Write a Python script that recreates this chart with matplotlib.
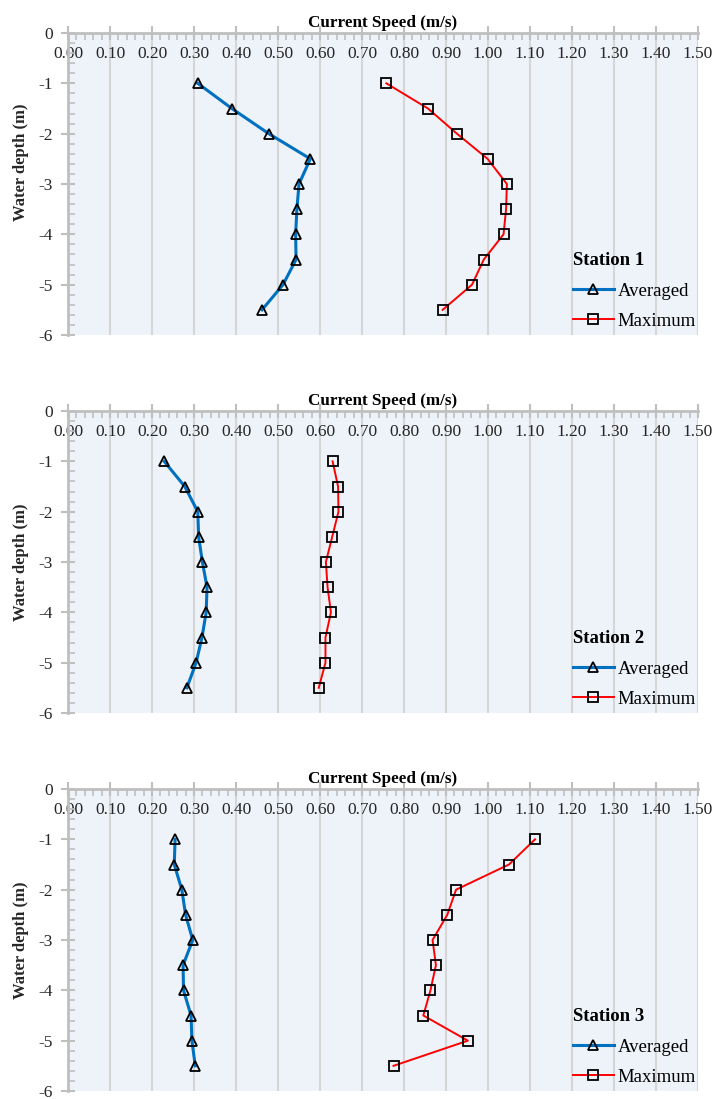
import matplotlib.pyplot as plt
from matplotlib.ticker import MultipleLocator, FixedLocator

# ============================================
# Data
# ============================================

depth = [-1.0, -1.5, -2.0, -2.5, -3.0, -3.5, -4.0, -4.5, -5.0, -5.5]

stations = ["Station 1", "Station 2", "Station 3"]

avg_s1 = [0.309, 0.390, 0.478, 0.577, 0.550, 0.545, 0.542, 0.543, 0.512, 0.462]
max_s1 = [0.758, 0.857, 0.926, 0.999, 1.045, 1.043, 1.037, 0.990, 0.962, 0.892]

avg_s2 = [0.229, 0.278, 0.309, 0.311, 0.320, 0.331, 0.329, 0.319, 0.305, 0.283]
max_s2 = [0.630, 0.643, 0.644, 0.629, 0.614, 0.618, 0.626, 0.613, 0.613, 0.597]

avg_s3 = [0.255, 0.253, 0.271, 0.280, 0.297, 0.274, 0.275, 0.293, 0.295, 0.303]
max_s3 = [1.112, 1.050, 0.924, 0.903, 0.868, 0.876, 0.863, 0.846, 0.952, 0.775]

averaged = [avg_s1, avg_s2, avg_s3]
maximum = [max_s1, max_s2, max_s3]

x_ticks = [i / 10 for i in range(16)]
x_labels = [f"{t:.2f}" for t in x_ticks]
y_ticks = [0, -1, -2, -3, -4, -5, -6]

# ============================================
# Style
# ============================================

SERIF = ["Liberation Serif", "DejaVu Serif"]
BG = "#EEF2F9"
GRID = "#D6D6D6"
SPINE = "#BFBFBF"
TEXT = "#262626"

plt.rcParams["font.family"] = SERIF

fig = plt.figure(figsize=(7.14, 10.99), dpi=100)

W, H = 714, 1099
left_px, right_px = 68, 698
panel_tops = [33, 411, 789]
panel_h = 302
ylabel_centers = [162, 562, 940]

for k in range(3):
    top = panel_tops[k]
    ax = fig.add_axes([left_px / W, 1 - (top + panel_h) / H,
                       (right_px - left_px) / W, panel_h / H])
    ax.set_facecolor(BG)

    ax.set_xlim(0, 1.5)
    ax.set_ylim(-6, 0)

    # vertical gridlines
    for t in x_ticks[1:]:
        ax.axvline(t, color=GRID, lw=1.5, zorder=0)

    ax.plot(averaged[k], depth, color="#0070C0", lw=2.2, marker="^",
            ms=7, mfc="none", mec="black", mew=1.3, label="Averaged",
            zorder=3)
    ax.plot(maximum[k], depth, color="#FF0000", lw=1.4, marker="s",
            ms=7, mfc="none", mec="black", mew=1.3, label="Maximum",
            zorder=3)

    # spines
    for side in ["right", "bottom"]:
        ax.spines[side].set_visible(False)
    for side in ["left", "top"]:
        ax.spines[side].set_color(SPINE)
        ax.spines[side].set_linewidth(2)

    # x axis along the top, labels sitting just under the line
    ax.xaxis.set_major_locator(FixedLocator(x_ticks))
    ax.set_xticklabels(x_labels)
    ax.xaxis.set_minor_locator(MultipleLocator(0.02))
    ax.xaxis.tick_top()
    ax.tick_params(axis="x", which="major", direction="inout", length=10,
                   width=1.5, color=SPINE, pad=-26, labelsize=12.5,
                   labelcolor=TEXT)
    ax.tick_params(axis="x", which="minor", direction="in", length=5,
                   width=1.2, color=SPINE, top=True, bottom=False)

    ax.yaxis.set_major_locator(FixedLocator(y_ticks))
    ax.set_yticklabels([str(v) for v in y_ticks])
    ax.yaxis.set_minor_locator(MultipleLocator(0.2))
    ax.tick_params(axis="y", which="major", direction="inout", length=10,
                   width=1.5, color=SPINE, pad=6, labelsize=12.5,
                   labelcolor=TEXT)
    ax.tick_params(axis="y", which="minor", direction="in", length=5,
                   width=1.2, color=SPINE)

    ax.set_title("Current Speed (m/s)", fontsize=12.3, fontweight="bold",
                 color="black", pad=4)

    ax.set_ylabel("Water depth (m)", fontsize=12, fontweight="bold",
                  color=TEXT)
    ax.yaxis.set_label_coords(
        (29 - left_px) / (right_px - left_px),
        (top + panel_h - ylabel_centers[k]) / panel_h)

    leg = ax.legend(title=stations[k], loc="upper left",
                    bbox_to_anchor=(0.786, 0.305), frameon=False,
                    borderpad=0, handlelength=2.2, handletextpad=0.2,
                    labelspacing=0.7, fontsize=13.5,
                    title_fontproperties={"weight": "bold", "size": 13.5,
                                          "family": SERIF})
    leg._legend_box.align = "left"

fig.savefig("out.png", dpi=100)
